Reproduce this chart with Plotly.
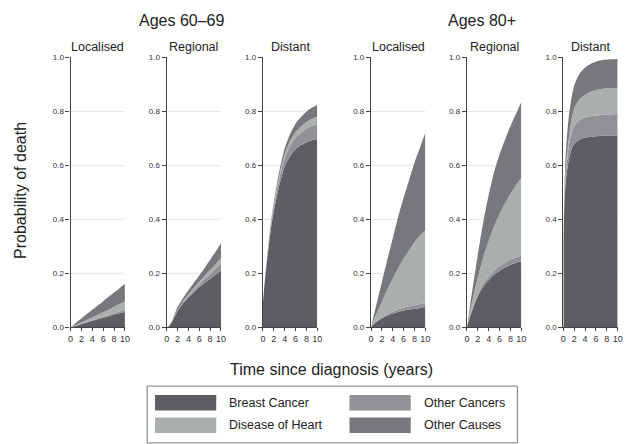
import plotly.graph_objects as go

# Time since diagnosis (years) at which cumulative probabilities are given
years = [0, 0.25, 0.5, 1, 1.5, 2, 3, 4, 5, 6, 7, 8, 9, 10]

causes = ["Breast Cancer", "Other Cancers", "Disease of Heart", "Other Causes"]
cause_colors = ["#5e5d62", "#929196", "#aaafad", "#78777c"]

age_groups = ["Ages 60–69", "Ages 80+"]
stages = ["Localised", "Regional", "Distant"]

# Cause-specific probability of death (stack contributions), ages 60-69
loc60_breast = [0, 0.0015, 0.003, 0.006, 0.009, 0.012, 0.018, 0.024, 0.03, 0.035, 0.041, 0.047, 0.052, 0.058]
loc60_othca = [0, 0, 0.0005, 0.001, 0.001, 0.0015, 0.002, 0.003, 0.004, 0.005, 0.005, 0.006, 0.007, 0.008]
loc60_heart = [0, 0.0005, 0.001, 0.002, 0.003, 0.004, 0.007, 0.01, 0.013, 0.016, 0.019, 0.023, 0.027, 0.031]
loc60_other = [0, 0.002, 0.0035, 0.008, 0.012, 0.0155, 0.022, 0.028, 0.034, 0.041, 0.048, 0.053, 0.059, 0.064]

reg60_breast = [0, 0.002, 0.006, 0.02, 0.04, 0.06, 0.088, 0.11, 0.13, 0.148, 0.165, 0.18, 0.195, 0.21]
reg60_othca = [0, 0, 0, 0.001, 0.002, 0.003, 0.005, 0.007, 0.009, 0.012, 0.015, 0.018, 0.022, 0.026]
reg60_heart = [0, 0, 0, 0.001, 0.001, 0.002, 0.003, 0.005, 0.007, 0.009, 0.011, 0.014, 0.017, 0.021]
reg60_other = [0, 0, 0.002, 0.003, 0.007, 0.01, 0.012, 0.015, 0.019, 0.023, 0.029, 0.038, 0.046, 0.054]

dist60_breast = [0.09, 0.15, 0.2, 0.29, 0.37, 0.43, 0.525, 0.595, 0.635, 0.66, 0.675, 0.686, 0.693, 0.698]
dist60_othca = [0, 0.002, 0.004, 0.008, 0.012, 0.016, 0.024, 0.031, 0.037, 0.042, 0.046, 0.05, 0.053, 0.055]
dist60_heart = [0, 0.001, 0.002, 0.004, 0.006, 0.008, 0.012, 0.015, 0.018, 0.021, 0.023, 0.025, 0.026, 0.027]
dist60_other = [0, 0.001, 0.002, 0.004, 0.007, 0.01, 0.016, 0.021, 0.026, 0.031, 0.035, 0.038, 0.041, 0.044]

# Ages 80+
loc80_breast = [0, 0.007, 0.012, 0.02, 0.027, 0.033, 0.043, 0.051, 0.057, 0.062, 0.066, 0.069, 0.072, 0.075]
loc80_othca = [0, 0, 0.001, 0.002, 0.003, 0.004, 0.006, 0.008, 0.009, 0.011, 0.012, 0.013, 0.014, 0.015]
loc80_heart = [0, 0.006, 0.013, 0.028, 0.043, 0.058, 0.091, 0.121, 0.154, 0.182, 0.207, 0.233, 0.254, 0.27]
loc80_other = [0, 0.009, 0.017, 0.035, 0.054, 0.073, 0.11, 0.15, 0.19, 0.225, 0.26, 0.295, 0.325, 0.362]

reg80_breast = [0, 0.018, 0.035, 0.065, 0.093, 0.115, 0.15, 0.175, 0.195, 0.21, 0.222, 0.232, 0.239, 0.245]
reg80_othca = [0, 0.001, 0.002, 0.004, 0.006, 0.008, 0.011, 0.013, 0.015, 0.017, 0.018, 0.019, 0.02, 0.021]
reg80_heart = [0, 0.008, 0.015, 0.031, 0.046, 0.062, 0.099, 0.132, 0.165, 0.193, 0.22, 0.244, 0.266, 0.287]
reg80_other = [0, 0.008, 0.018, 0.04, 0.06, 0.085, 0.13, 0.17, 0.2, 0.22, 0.235, 0.25, 0.265, 0.282]

dist80_breast = [0.33, 0.48, 0.55, 0.62, 0.66, 0.68, 0.695, 0.702, 0.706, 0.708, 0.71, 0.711, 0.711, 0.712]
dist80_othca = [0, 0.02, 0.03, 0.05, 0.06, 0.065, 0.073, 0.075, 0.076, 0.077, 0.077, 0.077, 0.078, 0.078]
dist80_heart = [0, 0.02, 0.02, 0.03, 0.05, 0.065, 0.077, 0.085, 0.09, 0.094, 0.096, 0.098, 0.098, 0.098]
dist80_other = [0, 0.03, 0.06, 0.08, 0.08, 0.085, 0.095, 0.101, 0.104, 0.105, 0.106, 0.106, 0.106, 0.106]

x_ticks = [0, 2, 4, 6, 8, 10]
y_ticks = [0.0, 0.2, 0.4, 0.6, 0.8, 1.0]
grid_levels = [0.2, 0.4, 0.6, 0.8]

panels = [
    [loc60_breast, loc60_othca, loc60_heart, loc60_other],
    [reg60_breast, reg60_othca, reg60_heart, reg60_other],
    [dist60_breast, dist60_othca, dist60_heart, dist60_other],
    [loc80_breast, loc80_othca, loc80_heart, loc80_other],
    [reg80_breast, reg80_othca, reg80_heart, reg80_other],
    [dist80_breast, dist80_othca, dist80_heart, dist80_other],
]

W, H = 626, 444
FONT = "Liberation Sans, Arial, Helvetica, sans-serif"


def fx(px):
    return px / W


def fy(py):
    return 1 - py / H


# panel placement (pixels)
panel_left = [68.5, 165.8, 263.3, 372.8, 470.0, 567.6]
panel_w = 55.0
plot_top, plot_bottom = 54.5, 330.0
heading_x = [181, 485]

fig = go.Figure()
layout = dict(
    width=W, height=H,
    margin=dict(l=0, r=0, t=0, b=0),
    paper_bgcolor="white", plot_bgcolor="white",
    showlegend=False,
    font=dict(family=FONT, color="#222222"),
)

shapes = []
for i, series in enumerate(panels):
    n = i + 1
    xa = "x" if n == 1 else f"x{n}"
    ya = "y" if n == 1 else f"y{n}"
    for name, color, vals in zip(causes, cause_colors, series):
        fig.add_trace(go.Scatter(
            x=years, y=vals, name=name, xaxis=xa, yaxis=ya,
            stackgroup=f"s{n}", mode="lines",
            line=dict(width=0, shape="spline", smoothing=0.8, color=color),
            fillcolor=color, hoverinfo="skip",
        ))
    # light horizontal guides, drawn beneath the areas
    for g in grid_levels:
        shapes.append(dict(type="line", xref=f"{xa} domain", yref=ya,
                           x0=0, x1=1, y0=g, y1=g, layer="below",
                           line=dict(color="#e6e6e6", width=1)))
    key = "" if n == 1 else str(n)
    layout[f"xaxis{key}"] = dict(
        domain=[fx(panel_left[i]), fx(panel_left[i] + panel_w)],
        anchor=ya, range=[0, 10], tickvals=x_ticks, ticktext=[str(v) for v in x_ticks],
        showgrid=False, zeroline=False, showline=True, linecolor="#444444", linewidth=1.3,
        ticks="outside", ticklen=3, tickcolor="#444444", tickwidth=1,
        tickfont=dict(size=9, color="#333333", family=FONT),
    )
    layout[f"yaxis{key}"] = dict(
        domain=[fy(plot_bottom), fy(plot_top)],
        anchor=xa, range=[0, 1], tickvals=y_ticks, ticktext=[f"{v:.1f}" for v in y_ticks],
        showgrid=False, zeroline=False,
        showline=True, linecolor="#444444", linewidth=1.3,
        ticks="outside", ticklen=4, tickcolor="#444444", tickwidth=1,
        tickfont=dict(size=8, color="#333333", family=FONT),
    )

annotations = []
# stage titles above each panel
for i in range(6):
    annotations.append(dict(
        x=fx(panel_left[i] + panel_w / 2), y=fy(44), xref="paper", yref="paper",
        text=stages[i % 3], showarrow=False, xanchor="center", yanchor="middle",
        font=dict(size=12.5, family=FONT, color="#222222"),
    ))
# age group headings
for g in range(2):
    annotations.append(dict(
        x=fx(heading_x[g]), y=fy(17), xref="paper", yref="paper", text=age_groups[g],
        showarrow=False, xanchor="center", yanchor="middle",
        font=dict(size=16, family=FONT, color="#222222"),
    ))
# axis titles
annotations.append(dict(
    x=fx(17), y=fy(190), xref="paper", yref="paper", text="Probability of death",
    showarrow=False, textangle=-90, xanchor="center", yanchor="middle",
    font=dict(size=16, family=FONT, color="#222222"),
))
annotations.append(dict(
    x=fx(333), y=fy(373), xref="paper", yref="paper", text="Time since diagnosis (years)",
    showarrow=False, xanchor="center", yanchor="middle",
    font=dict(size=16, family=FONT, color="#222222"),
))

# legend box with swatches
shapes.append(dict(type="rect", xref="paper", yref="paper",
                   x0=fx(146), x1=fx(521), y0=fy(448), y1=fy(390),
                   line=dict(color="#777777", width=1), fillcolor="white", layer="below"))
swatch_pos = [(154, 399), (351, 399), (154, 422), (351, 422)]
for name, color, (sx, sy) in zip(causes, cause_colors, swatch_pos):
    shapes.append(dict(type="rect", xref="paper", yref="paper",
                       x0=fx(sx), x1=fx(sx + 62), y0=fy(sy + 16), y1=fy(sy),
                       line=dict(width=0), fillcolor=color))
    annotations.append(dict(
        x=fx(sx + 73), y=fy(sy + 8), xref="paper", yref="paper", text=name,
        showarrow=False, xanchor="left", yanchor="middle",
        font=dict(size=12.5, family=FONT, color="#222222"),
    ))

layout["annotations"] = annotations
layout["shapes"] = shapes
fig.update_layout(**layout)

fig.write_html("out.html")
